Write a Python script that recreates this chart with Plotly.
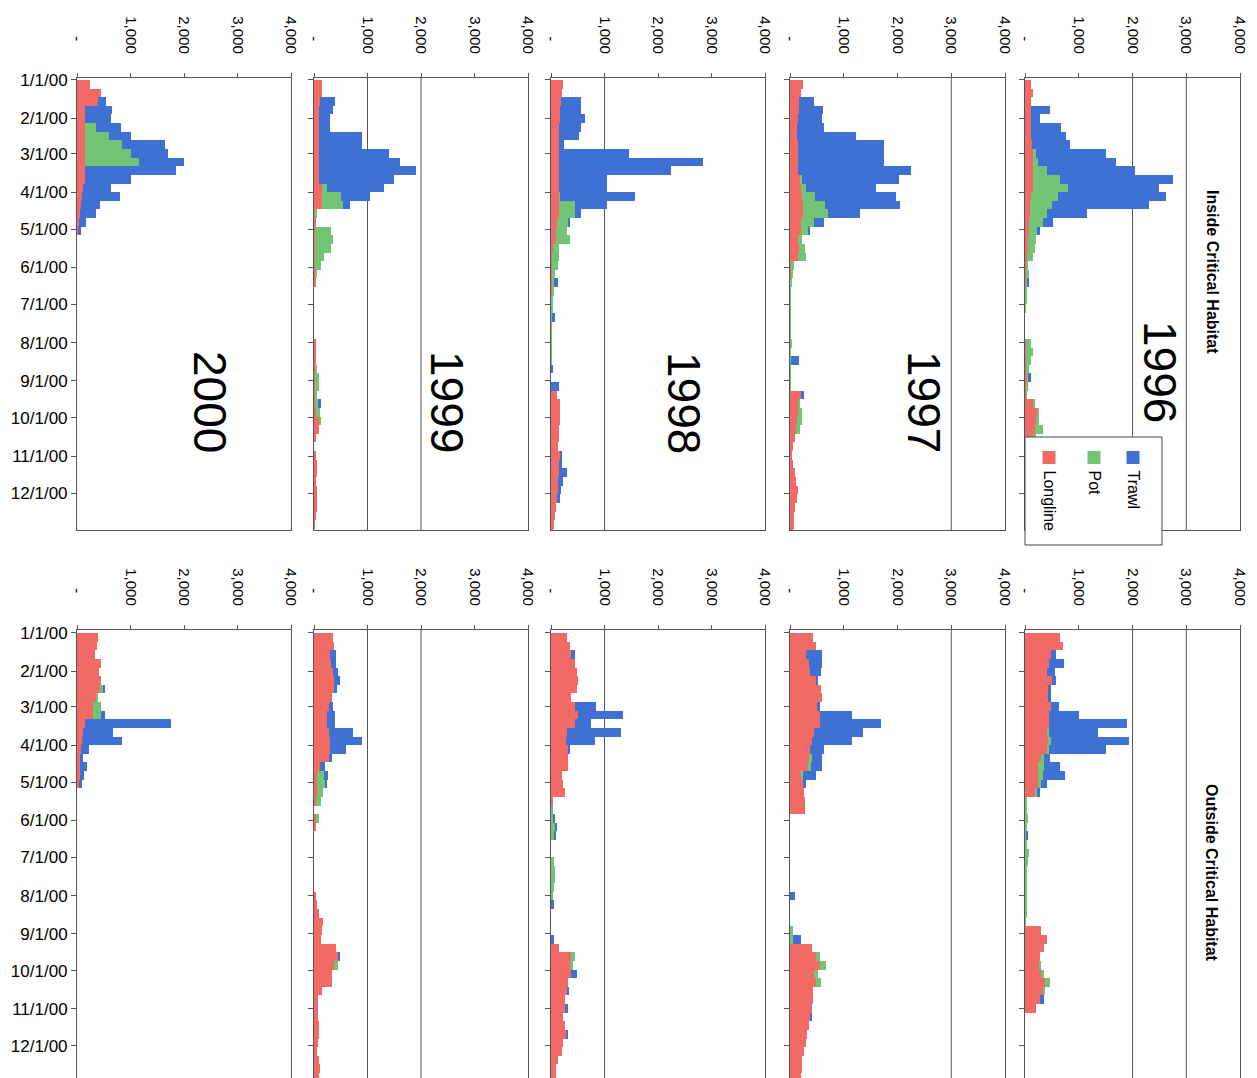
import plotly.graph_objects as go
from datetime import date, timedelta

# ---------------- data (weekly catch) ----------------
years = ["2000", "1999", "1998", "1997", "1996"]
gears = ["Longline", "Pot", "Trawl"]
gear_colors = {"Longline": "#f26a65", "Pot": "#72c575", "Trawl": "#3f71d4"}

week_starts = [(date(2000, 1, 1) + timedelta(days=7 * i)).isoformat() for i in range(53)]

month_tickvals = ["2000-%02d-01" % m for m in range(1, 13)]
month_ticktext = ["1/1/00", "2/1/00", "3/1/00", "4/1/00", "5/1/00", "6/1/00",
                  "7/1/00", "8/1/00", "9/1/00", "10/1/00", "11/1/00", "12/1/00"]
value_tickvals = [0, 1000, 2000, 3000, 4000]
value_ticktext = ["-\u00a0\u00a0\u00a0", "1,000", "2,000", "3,000", "4,000"]

# Inside critical habitat
in96_longline = [110,140,110,120,120,120,120,130,150,150,150,150,150,120,100,100,80,80,60,50,40,20,10,10,0,0,0,0,0,0,10,10,10,20,40,30,20,150,220,200,180,150,120,100,100,100,100,100,80,80,60,60,60]
in96_pot      = [0,0,0,0,0,0,0,0,50,100,250,500,650,500,400,300,250,160,150,130,100,40,60,40,20,20,10,0,0,0,100,140,110,60,10,30,10,20,40,60,150,50,50,50,50,50,50,50,50,50,50,50,50]
in96_trawl    = [0,0,0,350,150,550,650,700,1300,1450,1650,2100,1700,2000,1800,750,200,30,0,0,0,0,0,30,0,0,0,0,0,0,0,0,0,0,60,0,0,0,0,0,0,0,0,0,0,0,0,0,0,0,0,0,0]

in97_longline = [250,200,170,170,150,130,130,150,150,150,150,180,200,220,250,250,200,200,150,160,150,20,10,10,0,0,0,0,0,0,0,0,0,0,0,0,200,150,150,130,120,100,60,40,60,90,120,140,130,100,80,70,60]
in97_pot      = [0,0,0,0,0,0,0,0,0,0,0,50,100,250,400,450,250,150,80,120,150,60,40,30,10,10,5,5,5,10,20,10,10,10,10,10,0,20,80,100,60,0,0,0,0,0,0,0,0,0,0,0,0]
in97_trawl    = [0,0,280,450,450,500,1100,1600,1600,1600,2100,1800,1300,1500,1400,600,180,20,0,0,0,0,0,0,0,0,0,0,0,0,0,0,150,0,0,0,60,0,0,0,0,0,0,0,0,0,0,0,0,0,0,0,0]

in98_longline = [220,200,180,170,160,150,150,150,150,150,150,150,150,150,150,150,120,100,100,30,20,10,10,10,10,5,5,5,5,5,5,5,5,5,0,0,120,170,170,170,150,150,130,160,150,150,140,130,120,100,70,60,30]
in98_pot      = [0,0,0,0,0,0,0,0,0,0,0,0,0,20,300,300,200,200,250,120,130,120,60,50,40,30,30,10,10,10,10,10,10,10,0,0,0,0,0,0,0,0,0,0,0,0,0,0,0,0,0,0,0]
in98_trawl    = [0,0,380,400,480,420,380,100,1300,2700,2100,900,900,1400,600,120,30,0,0,0,0,0,0,80,0,0,0,60,0,0,0,0,0,30,0,150,0,0,0,0,0,0,0,40,60,150,80,60,40,0,0,0,0]

in99_longline = [150,150,120,100,100,100,100,100,100,100,100,100,150,150,150,30,20,10,10,10,10,10,10,30,0,0,0,0,0,0,20,40,30,10,10,10,20,20,40,100,100,20,0,40,60,50,30,50,60,50,20,10,0]
in99_pot      = [0,0,0,0,0,0,0,0,0,0,0,0,100,350,400,30,0,300,350,300,180,120,40,0,0,0,0,0,0,0,0,0,0,40,80,80,40,60,80,30,0,0,0,0,0,0,0,0,0,0,0,0,0]
in99_trawl    = [0,0,280,260,200,200,800,800,1300,1500,1800,1400,1050,550,120,0,0,0,0,0,0,0,0,0,0,0,0,0,0,0,0,0,0,0,0,0,0,60,0,0,0,0,0,0,0,0,0,0,0,0,0,0,0]

in00_longline = [250,450,400,150,150,150,150,150,150,150,150,150,120,100,80,60,30,10,0,0,0,0,0,0,0,0,0,0,0,0,0,0,0,0,0,0,0,0,0,0,0,0,0,0,0,0,0,0,0,0,0,0,0]
in00_pot      = [0,0,0,0,0,200,450,700,850,1000,0,0,0,0,0,0,0,0,0,0,0,0,0,0,0,0,0,0,0,0,0,0,0,0,0,0,0,0,0,0,0,0,0,0,0,0,0,0,0,0,0,0,0]
in00_trawl    = [0,0,150,500,480,480,400,800,700,850,1700,850,520,700,350,300,130,60,0,0,0,0,0,0,0,0,0,0,0,0,0,0,0,0,0,0,0,0,0,0,0,0,0,0,0,0,0,0,0,0,0,0,0]

# Outside critical habitat
out96_longline = [650,700,480,450,400,500,420,430,480,450,450,420,420,400,300,250,250,250,200,0,0,0,0,0,0,0,0,0,0,0,0,0,0,0,300,400,350,280,270,300,380,350,280,200,0,0,0,0,0,0,0,0,0]
out96_pot      = [0,0,0,0,0,0,0,0,0,0,0,30,60,50,60,100,80,50,20,40,40,60,20,10,20,80,60,20,20,20,20,40,40,10,0,0,0,0,20,60,80,20,0,0,0,0,0,0,0,0,0,0,0]
out96_trawl    = [0,0,100,280,150,80,60,50,150,550,1450,900,1450,1050,100,300,420,100,60,0,0,0,0,40,0,0,0,0,0,0,0,0,0,0,0,0,0,0,0,0,0,0,80,0,0,0,0,0,0,0,0,0,0]

out97_longline = [430,480,300,350,380,480,580,600,500,550,550,450,400,380,350,330,200,250,260,280,280,0,0,0,0,0,0,0,0,0,0,0,0,0,0,0,400,480,550,450,480,420,430,400,380,360,320,290,260,230,220,200,200]
out97_pot      = [0,0,0,0,0,0,0,0,0,0,0,0,0,0,50,60,40,0,0,0,0,0,0,0,0,0,0,0,0,0,0,0,0,0,60,60,0,80,120,80,90,0,0,0,0,0,0,0,0,0,0,0,0]
out97_trawl    = [0,0,300,250,200,50,0,0,50,600,1150,900,750,250,200,200,250,50,0,0,0,0,0,0,0,0,0,0,0,0,100,0,0,0,0,150,0,0,0,0,0,0,0,0,30,0,0,0,0,0,0,0,0]

out98_longline = [300,350,380,450,480,500,480,380,450,500,450,300,280,320,320,320,200,220,270,30,0,0,0,0,0,0,0,0,0,0,0,0,0,0,0,0,150,380,350,380,320,310,260,270,230,270,280,230,200,140,100,100,100]
out98_pot      = [0,0,0,0,0,0,0,0,0,0,0,0,0,0,0,0,0,0,0,0,30,40,80,60,0,0,50,80,80,60,40,0,0,0,0,0,0,60,60,0,0,0,0,0,0,0,0,0,0,0,0,0,0]
out98_trawl    = [0,0,60,0,0,0,0,0,400,850,300,1000,550,30,0,0,0,0,0,0,0,40,40,30,0,0,0,0,0,0,0,50,0,0,0,60,0,0,0,100,0,30,0,40,0,0,40,0,0,0,0,0,0]

out99_longline = [350,380,300,320,350,380,380,330,280,250,250,280,300,300,280,120,60,60,50,40,0,40,20,0,0,0,0,0,0,0,20,60,100,160,150,140,420,450,380,340,330,150,80,80,80,100,100,80,50,100,120,100,100]
out99_pot      = [0,0,0,0,0,0,0,0,0,0,0,0,0,0,0,0,120,150,120,100,0,60,0,0,0,0,0,0,0,0,0,0,0,0,0,0,0,0,60,0,0,0,0,0,0,0,0,0,0,0,0,0,0]
out99_trawl    = [0,0,120,100,100,100,50,0,80,150,150,450,600,300,50,80,80,30,0,0,0,0,0,0,0,0,0,0,0,0,0,0,0,0,0,0,0,40,0,0,0,0,0,0,0,0,0,0,0,0,0,0,0]

out00_longline = [400,380,330,450,420,450,430,360,300,300,150,120,100,80,60,60,50,40,0,0,0,0,0,0,0,0,0,0,0,0,0,0,0,0,0,0,0,0,0,0,0,0,0,0,0,0,0,0,0,0,0,0,0]
out00_pot      = [0,0,0,0,0,0,50,30,150,150,0,0,0,0,0,0,0,0,0,0,0,0,0,0,0,0,0,0,0,0,0,0,0,0,0,0,0,0,0,0,0,0,0,0,0,0,0,0,0,0,0,0,0]
out00_trawl    = [0,0,0,0,0,0,40,0,0,80,1600,550,750,150,60,120,80,50,0,0,0,0,0,0,0,0,0,0,0,0,0,0,0,0,0,0,0,0,0,0,0,0,0,0,0,0,0,0,0,0,0,0,0]

inside = {
    "1996": (in96_longline, in96_pot, in96_trawl),
    "1997": (in97_longline, in97_pot, in97_trawl),
    "1998": (in98_longline, in98_pot, in98_trawl),
    "1999": (in99_longline, in99_pot, in99_trawl),
    "2000": (in00_longline, in00_pot, in00_trawl),
}
outside = {
    "1996": (out96_longline, out96_pot, out96_trawl),
    "1997": (out97_longline, out97_pot, out97_trawl),
    "1998": (out98_longline, out98_pot, out98_trawl),
    "1999": (out99_longline, out99_pot, out99_trawl),
    "2000": (out00_longline, out00_pot, out00_trawl),
}

# ---------------- layout geometry (page pixels; page body has an 8px margin) ----------------
W, H = 1257, 1078
OFF = 8
def px(x):
    return (x - OFF) / W
def py(y):
    return 1 - (y - OFF) / H

col_px = {"2000": (77, 291), "1999": (314, 528), "1998": (551, 765),
          "1997": (790, 1005), "1996": (1025, 1240)}
row_px = {"in": (78, 530), "out": (630, 1078)}
row_range = {"in": ["2000-12-31", "1999-12-30 10:00"],
             "out": ["2000-12-27", "1999-12-29 14:00"]}
grid_vals = {"2000": [], "1999": [1000, 2000], "1998": [1000],
             "1997": [3000], "1996": [2000, 3000]}

FONT = "Liberation Sans, Arial, sans-serif"
fig = go.Figure()
layout = dict(
    width=W, height=H, margin=dict(l=0, r=0, t=0, b=0, autoexpand=False),
    paper_bgcolor="white", plot_bgcolor="white",
    barmode="stack", showlegend=False,
    font=dict(family=FONT, color="black"),
)
shapes = []
annotations = []
week_ms = 7 * 86400000

n = 0
for row, data in (("in", inside), ("out", outside)):
    for yr in years:
        n += 1
        xa = "x" if n == 1 else "x%d" % n
        ya = "y" if n == 1 else "y%d" % n
        series = data[yr]
        for g, vals in zip(gears, series):
            fig.add_trace(go.Bar(
                y=week_starts, x=vals, orientation="h",
                width=week_ms, offset=0,
                marker=dict(color=gear_colors[g], line=dict(width=0)),
                xaxis=xa, yaxis=ya, name=g, showlegend=False,
                hoverinfo="skip",
            ))
        x0, x1 = col_px[yr]
        y0, y1 = row_px[row]
        layout["xaxis" if n == 1 else "xaxis%d" % n] = dict(
            domain=[px(x0), px(x1)], anchor=ya, side="top",
            range=[0, 4000], tickmode="array",
            tickvals=value_tickvals, ticktext=value_ticktext,
            tickangle=90, ticks="outside", ticklen=4, tickcolor="#555",
            ticklabelstandoff=14, automargin=False,
            showgrid=False, zeroline=False, showline=True, mirror=True,
            linecolor="#555", linewidth=1,
            tickfont=dict(size=15, family=FONT, color="black"),
            fixedrange=True,
        )
        layout["yaxis" if n == 1 else "yaxis%d" % n] = dict(
            domain=[max(0, py(y1)), py(y0)], anchor=xa, type="date",
            range=row_range[row], tickmode="array",
            tickvals=month_tickvals, ticktext=month_ticktext,
            showticklabels=(yr == "2000"), automargin=False,
            ticks="outside", ticklen=5, tickcolor="#555",
            showgrid=False, zeroline=False, showline=True, mirror=True,
            linecolor="#555", linewidth=1,
            tickfont=dict(size=17, family=FONT, color="black"),
            fixedrange=True,
        )
        for gv in grid_vals[yr]:
            shapes.append(dict(type="line", xref=xa, yref=ya + " domain",
                               x0=gv, x1=gv, y0=0, y1=1, layer="below",
                               line=dict(color="#555", width=1)))

# year labels (rotated, inside row)
year_centers = {"1996": (1160, 372), "1997": (924, 402), "1998": (684, 403),
                "1999": (447, 402), "2000": (210, 402)}
for yr, (cx, cy) in year_centers.items():
    annotations.append(dict(text=yr, x=px(cx), y=py(cy), xref="paper", yref="paper",
                            showarrow=False, textangle=90, xanchor="center", yanchor="middle",
                            font=dict(size=46, family=FONT, color="black")))

annotations.append(dict(text="<b>Inside Critical Habitat</b>", x=px(1213), y=py(272),
                        xref="paper", yref="paper", showarrow=False, textangle=90,
                        xanchor="center", yanchor="middle",
                        font=dict(size=16, family=FONT, color="black")))
annotations.append(dict(text="<b>Outside Critical Habitat</b>", x=px(1212), y=py(873),
                        xref="paper", yref="paper", showarrow=False, textangle=90,
                        xanchor="center", yanchor="middle",
                        font=dict(size=16, family=FONT, color="black")))

# rotated legend box
shapes.append(dict(type="rect", xref="paper", yref="paper",
                   x0=px(1025), x1=px(1162), y0=py(545), y1=py(437),
                   fillcolor="white", line=dict(color="#444", width=1), layer="above"))
legend_items = [("Trawl", 1133), ("Pot", 1094), ("Longline", 1049)]
for g, cx in legend_items:
    shapes.append(dict(type="rect", xref="paper", yref="paper",
                       x0=px(cx - 6.5), x1=px(cx + 6.5), y0=py(464), y1=py(451),
                       fillcolor=gear_colors[g], line=dict(width=0), layer="above"))
    annotations.append(dict(text=g, x=px(cx), y=py(468), xref="paper", yref="paper",
                            showarrow=False, textangle=90, xanchor="center", yanchor="top",
                            font=dict(size=16, family=FONT, color="black")))

layout["shapes"] = shapes
layout["annotations"] = annotations
fig.update_layout(**layout)
fig.write_html("out.html")
